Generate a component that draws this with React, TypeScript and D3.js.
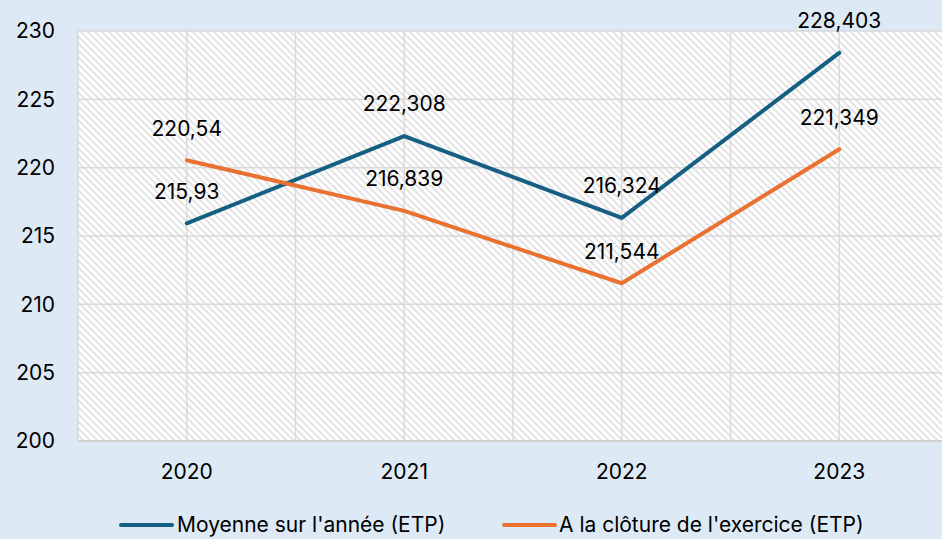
import React from "react";
import * as d3 from "d3";

const categories = ["2020", "2021", "2022", "2023"];
const moyenne = [215.93, 222.308, 216.324, 228.403];
const cloture = [220.54, 216.839, 211.544, 221.349];
const moyenneLabels = ["215,93", "222,308", "216,324", "228,403"];
const clotureLabels = ["220,54", "216,839", "211,544", "221,349"];
const yTicks = [200, 205, 210, 215, 220, 225, 230];
const seriesNames = ["Moyenne sur l'année (ETP)", "A la clôture de l'exercice (ETP)"];

const W = 942;
const H = 539;
const BLUE = "#156082";
const ORANGE = "#E97132";
const FONT = "Inter, 'Open Sans', sans-serif";
const FS = 21;

export default function App() {
  const left = 78;
  const top = 31;
  const bottom = 441;
  const x = d3.scaleBand<string>().domain(categories).range([left, left + 4 * 217.5]).padding(0);
  const cx = (c: string) => (x(c) as number) + x.bandwidth() / 2;
  const y = d3.scaleLinear().domain([200, 230]).range([bottom, top]);
  const line = d3
    .line<number>()
    .x((_, i) => cx(categories[i]))
    .y((d) => y(d));
  const right = left + 4 * 217.5;

  return (
    <svg width={W} height={H} style={{ position: "absolute", left: 0, top: 0 }} fontFamily={FONT}>
      <defs>
        <pattern id="hatch" width="7" height="7" patternUnits="userSpaceOnUse">
          <rect width="7" height="7" fill="#ffffff" />
          <path d="M-2,-2 L9,9 M-5,2 L2,9 M5,-2 L9,2" stroke="#e4e4e4" strokeWidth="2" />
        </pattern>
      </defs>
      <rect x={0} y={0} width={W} height={H} fill="#DDEAF6" />
      <rect x={left} y={top} width={right - left} height={bottom - top} fill="url(#hatch)" />
      {yTicks.map((t) => (
        <line key={"g" + t} x1={left} x2={right} y1={y(t)} y2={y(t)} stroke="#dadada" strokeWidth={1.5} />
      ))}
      {categories.map((c) => (
        <g key={"v" + c}>
          <line x1={x(c) as number} x2={x(c) as number} y1={top} y2={bottom} stroke="#dadada" strokeWidth={1.5} />
          <line x1={cx(c)} x2={cx(c)} y1={top} y2={bottom} stroke="#dadada" strokeWidth={1.5} />
        </g>
      ))}
      <line x1={left} x2={right} y1={bottom} y2={bottom} stroke="#d0d0d0" strokeWidth={2} />
      {yTicks.map((t) => (
        <text key={"t" + t} x={55} y={y(t)} dy="0.35em" textAnchor="end" fontSize={FS} fill="#000">
          {t}
        </text>
      ))}
      {categories.map((c) => (
        <text key={"x" + c} x={cx(c)} y={472} dy="0.35em" textAnchor="middle" fontSize={FS} fill="#000">
          {c}
        </text>
      ))}
      <path d={line(moyenne) || ""} fill="none" stroke={BLUE} strokeWidth={4} strokeLinejoin="round" strokeLinecap="round" />
      <path d={line(cloture) || ""} fill="none" stroke={ORANGE} strokeWidth={4} strokeLinejoin="round" strokeLinecap="round" />
      {moyenne.map((v, i) => (
        <text key={"lm" + i} x={cx(categories[i])} y={y(v) - 32} dy="0.35em" textAnchor="middle" fontSize={FS} fill="#000">
          {moyenneLabels[i]}
        </text>
      ))}
      {cloture.map((v, i) => (
        <text key={"lc" + i} x={cx(categories[i])} y={y(v) - 32} dy="0.35em" textAnchor="middle" fontSize={FS} fill="#000">
          {clotureLabels[i]}
        </text>
      ))}
      <line x1={121} x2={172} y1={525} y2={525} stroke={BLUE} strokeWidth={4} strokeLinecap="round" />
      <text x={177} y={525} dy="0.35em" fontSize={FS} fill="#000">
        {seriesNames[0]}
      </text>
      <line x1={504} x2={555} y1={525} y2={525} stroke={ORANGE} strokeWidth={4} strokeLinecap="round" />
      <text x={559} y={525} dy="0.35em" fontSize={FS} fill="#000">
        {seriesNames[1]}
      </text>
    </svg>
  );
}
